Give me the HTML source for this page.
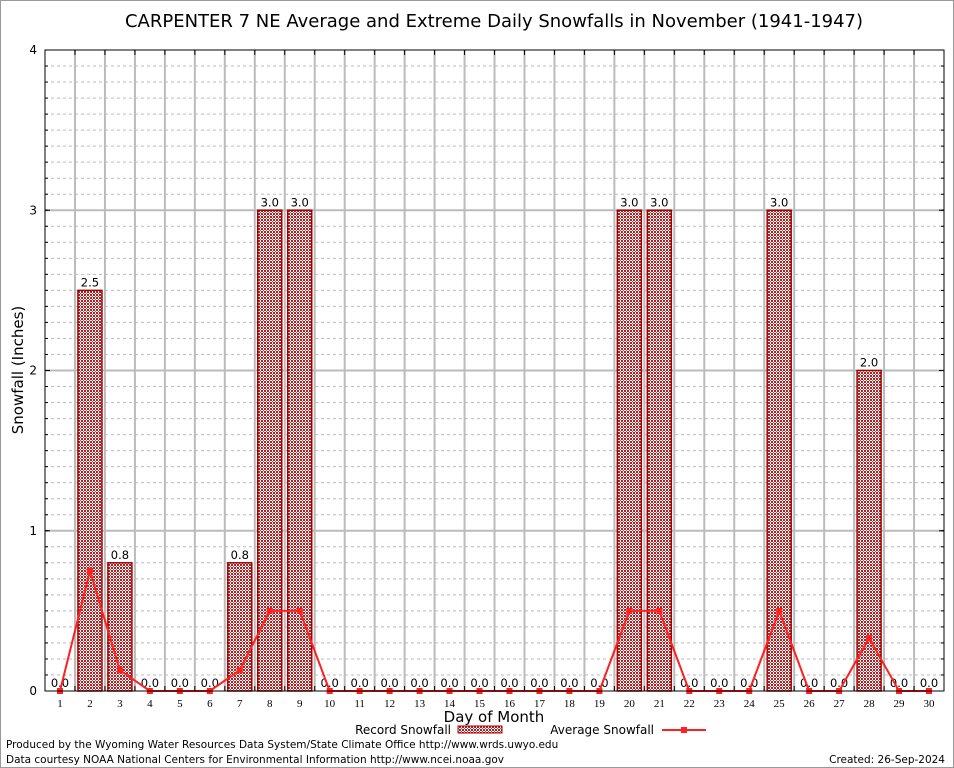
<!DOCTYPE html>
<html><head><meta charset="utf-8"><style>
body{margin:0;background:#fff;}
svg{display:block;font-family:"DejaVu Sans","Liberation Sans",sans-serif;}
</style></head><body>
<svg id="c" width="954" height="768" viewBox="0 0 954 768">
<defs>
<pattern id="hatch" width="3" height="3" patternUnits="userSpaceOnUse">
<rect width="3" height="3" fill="#fff"/>
<rect width="2" height="2" fill="#b02020"/>
<rect x="2" y="2" width="1" height="1" fill="#d04040"/>
</pattern>
</defs>
<rect x="0.5" y="0.5" width="953" height="767" fill="#fff" stroke="#999"/>
<text x="494" y="27" font-size="18" text-anchor="middle">CARPENTER 7 NE Average and Extreme Daily Snowfalls in November (1941-1947)</text>
<g id="grid"></g>
<g id="bars"></g>
<g id="line"></g>
<rect x="45" y="50" width="899" height="641" fill="none" stroke="#000" stroke-width="1"/>
<g id="axes"></g>
<text x="23" y="370" font-size="15" text-anchor="middle" transform="rotate(-90 23 370)">Snowfall (Inches)</text>
<text x="494" y="722" font-size="15" text-anchor="middle">Day of Month</text>
<g>
<text x="451" y="734" font-size="12" text-anchor="end">Record Snowfall</text>
<rect x="458" y="726" width="44" height="7" fill="url(#hatch)" stroke="#a00000"/>
<text x="654" y="734" font-size="12" text-anchor="end">Average Snowfall</text>
<line x1="662" y1="730" x2="706" y2="730" stroke="#ff2020" stroke-width="2"/>
<rect x="681" y="727" width="6" height="6" fill="#ff2020"/>
</g>
<text x="6" y="748" font-size="10.5">Produced by the Wyoming Water Resources Data System/State Climate Office http://www.wrds.uwyo.edu</text>
<text x="6" y="763" font-size="10.5">Data courtesy NOAA National Centers for Environmental Information http://www.ncei.noaa.gov</text>
<text x="945" y="763" font-size="10.5" text-anchor="end">Created: 26-Sep-2024</text>
</svg>
<script>
const days=[1,2,3,4,5,6,7,8,9,10,11,12,13,14,15,16,17,18,19,20,21,22,23,24,25,26,27,28,29,30];
const recordValues=[0,2.5,0.8,0,0,0,0.8,3,3,0,0,0,0,0,0,0,0,0,0,3,3,0,0,0,3,0,0,2,0,0];
const averageValues=[0,0.75,0.13,0,0,0,0.13,0.5,0.5,0,0,0,0,0,0,0,0,0,0,0.5,0.5,0,0,0,0.5,0,0,0.33,0,0];
const yTicks=[0,1,2,3,4];
const NS="http://www.w3.org/2000/svg";
const L=45,R=944,T=50,B=691;
function x(d){return L+(d-0.5)*(R-L)/30;}
function y(v){return B-v*(B-T)/4;}
function mk(tag,attrs,parent){const e=document.createElementNS(NS,tag);for(const k in attrs)e.setAttribute(k,attrs[k]);parent.appendChild(e);return e;}
const grid=document.getElementById('grid'),bars=document.getElementById('bars'),line=document.getElementById('line'),axes=document.getElementById('axes');
for(let i=1;i<40;i++){if(i%10===0)continue;const v=i/10;
const g=mk('line',{x1:L,x2:R,y1:y(v),y2:y(v),stroke:'#bbb','stroke-dasharray':'3,3'},grid);

}
yTicks.forEach(v=>{
if(v>0&&v<4){const g=mk('line',{x1:L,x2:R,y1:y(v),y2:y(v),stroke:'#bbb','stroke-width':2},grid);

}
const t=mk('text',{x:L-8,y:y(v)+4,'font-size':12,'text-anchor':'end'},axes);t.textContent=v;


mk('line',{x1:L,x2:L+5,y1:y(v),y2:y(v),stroke:'#000'},axes);
mk('line',{x1:R,x2:R-5,y1:y(v),y2:y(v),stroke:'#000'},axes);
});
for(let i=1;i<40;i++){mk('line',{x1:L,x2:L+3,y1:y(i/10),y2:y(i/10),stroke:'#000'},axes);mk('line',{x1:R,x2:R-3,y1:y(i/10),y2:y(i/10),stroke:'#000'},axes);}
for(let d=1;d<30;d++){const gx=x(d)+15;
const g=mk('line',{x1:gx,x2:gx,y1:T,y2:B,stroke:'#bbb','stroke-width':2},grid);


mk('line',{x1:gx,x2:gx,y1:T,y2:T+5,stroke:'#000'},axes);mk('line',{x1:gx,x2:gx,y1:B,y2:B-5,stroke:'#000'},axes);}
days.forEach((d,i)=>{
const v=recordValues[i];
if(v>0){const r=mk('rect',{x:x(d)-12,y:y(v),width:24,height:B-y(v),fill:'url(#hatch)',stroke:'#a00000','stroke-width':1.5},bars);

}
const t=mk('text',{x:x(d),y:y(v)-4,'font-size':11.5,'text-anchor':'middle'},bars);t.textContent=v.toFixed(1);


const xl=mk('text',{x:x(d),y:B+16,'font-size':11,'text-anchor':'middle','font-family':'Liberation Serif, serif'},axes);xl.textContent=d;


});
const pts=days.map((d,i)=>x(d)+','+y(averageValues[i])).join(' ');
const pl=mk('polyline',{points:pts,fill:'none',stroke:'#ff2020','stroke-width':2},line);


days.forEach((d,i)=>{const m=mk('rect',{x:x(d)-3,y:y(averageValues[i])-3,width:6,height:6,fill:'#ff2020'},line);

});
</script>
</body></html>
